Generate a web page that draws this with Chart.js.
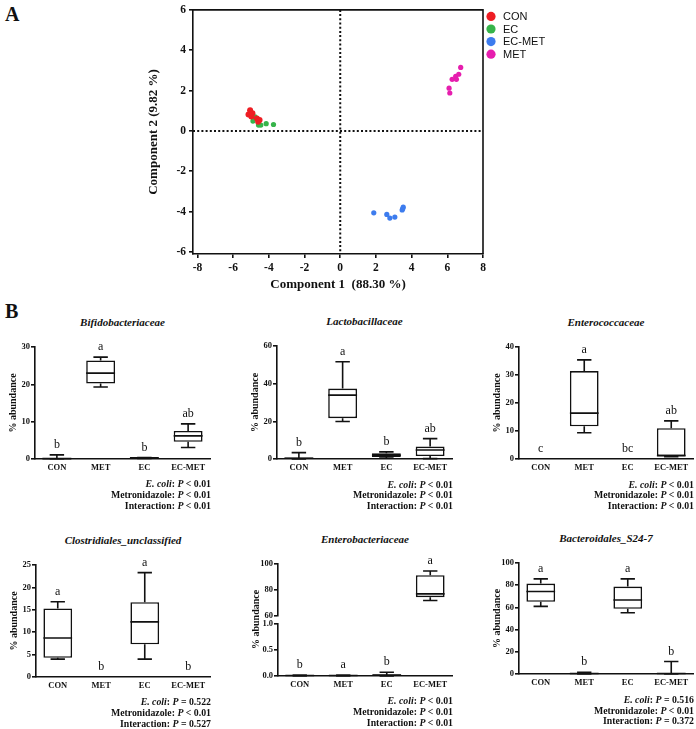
<!DOCTYPE html>
<html>
<head>
<meta charset="utf-8">
<script src="https://cdn.jsdelivr.net/npm/chart.js@4.4.0/dist/chart.umd.min.js"></script>
<style>
  body { margin: 0; background: #fff; }
  #page { position: relative; width: 696px; height: 729px; overflow: hidden; font-family: "Liberation Serif", serif; color: #111; }
  canvas { position: absolute; }
  .panel { position: absolute; font-weight: bold; font-size: 20px; line-height: 20px; }
  .title { position: absolute; font-style: italic; font-weight: bold; font-size: 11px; line-height: 13px; white-space: nowrap; transform: translateX(-50%); }
  .stats { position: absolute; font-weight: bold; font-size: 9.8px; line-height: 10.7px; text-align: right; white-space: nowrap; }
</style>
</head>
<body>
<div id="page">
  <div class="panel" style="left:5px; top:4px;">A</div>
  <div class="panel" style="left:5px; top:301px;">B</div>
  <canvas id="pca" width="420" height="300" style="left:140px; top:0px; width:420px; height:300px;"></canvas>
  <canvas id="bifido"></canvas>
  <canvas id="lacto"></canvas>
  <canvas id="enterococ"></canvas>
  <canvas id="clost"></canvas>
  <canvas id="enterobac"></canvas>
  <canvas id="bactero"></canvas>
</div>
<script>
// ---- data ----
const groups = ['CON', 'MET', 'EC', 'EC-MET'];
const factors = ['E. coli', 'Metronidazole', 'Interaction'];

// PCA scores [component 1, component 2]
const seriesNames = ['CON', 'EC', 'EC-MET', 'MET'];
const seriesColors = ['#ee1d23', '#36b44a', '#3d7cee', '#e61eae'];
const conScores = [[-5.14, 0.81], [-5.05, 1.03], [-4.98, 0.72], [-4.67, 0.62], [-4.52, 0.54], [-4.6, 0.45], [-4.92, 0.88]];
const ecScores = [[-4.86, 0.62], [-4.77, 0.70], [-4.89, 0.49], [-4.58, 0.29], [-4.45, 0.29], [-4.15, 0.36], [-3.74, 0.32]];
const ecMetScores = [[1.88, -4.06], [2.61, -4.14], [2.78, -4.32], [3.06, -4.27], [3.47, -3.92], [3.53, -3.78], [3.5, -3.86]];
const metScores = [[6.1, 2.12], [6.14, 1.88], [6.27, 2.56], [6.51, 2.56], [6.47, 2.71], [6.64, 2.81], [6.75, 3.15]];
const pcaXTicks = [-8, -6, -4, -2, 0, 2, 4, 6, 8];
const pcaYTicks = [-6, -4, -2, 0, 2, 4, 6];

// box plots: [min, q1, median, q3, max] per group, null = no box
const bifidoBox = [[0, 0.05, 0.1, 0.3, 1.1], [19.3, 20.2, 23.0, 26.4, 27.3], [0.15, 0.2, 0.3, 0.35, 0.4], [3.1, 4.6, 6.2, 7.5, 9.4]];
const bifidoLetters = ['b', 'a', 'b', 'ab'];
const bifidoP = ['< 0.01', '< 0.01', '< 0.01'];

const lactoBox = [[0, 0.2, 0.4, 0.8, 3.4], [19.9, 21.7, 33.9, 37.4, 51.6], [0.5, 1.0, 2.0, 3.0, 3.8], [0.2, 1.6, 4.8, 6.6, 10.8]];
const lactoLetters = ['b', 'a', 'b', 'ab'];
const lactoP = ['< 0.01', '< 0.01', '< 0.01'];

const enterococBox = [null, [9.4, 11.7, 16.4, 31.4, 35.4], null, [0.8, 1.0, 1.2, 11.0, 13.6]];
const enterococLetters = ['c', 'a', 'bc', 'ab'];
const enterococP = ['< 0.01', '< 0.01', '< 0.01'];

const clostBox = [[4.0, 4.3, 8.7, 15.3, 16.8], null, [4.0, 7.3, 12.3, 16.7, 23.3], null];
const clostLetters = ['a', 'b', 'a', 'b'];
const clostP = ['= 0.522', '< 0.01', '= 0.527'];

const enterobacBox = [[0, 0.005, 0.01, 0.015, 0.02], [0, 0.005, 0.01, 0.015, 0.02], [0, 0.01, 0.02, 0.03, 0.07], [71.6, 74.2, 76.8, 91.3, 94.5]];
const enterobacLetters = ['b', 'a', 'b', 'a'];
const enterobacP = ['< 0.01', '< 0.01', '< 0.01'];

const bacteroBox = [[60.9, 65.1, 74.3, 81.5, 85.7], [0, 0.2, 0.4, 0.6, 1.5], [55.2, 58.8, 66.6, 78.8, 85.7], [0, 0.2, 0.4, 0.8, 11.3]];
const bacteroLetters = ['a', 'b', 'a', 'b'];
const bacteroP = ['= 0.516', '< 0.01', '= 0.372'];

// ---- styling ----
Chart.defaults.font.family = '"Liberation Serif", serif';
Chart.defaults.color = '#111';
const INK = '#111';
const page = document.getElementById('page');

// ---- panel A: PCA scatter ----
const pcaDecor = {
    id: 'pcaDecor',
    beforeDatasetsDraw(chart) {
        const { ctx, chartArea: a, scales: { x, y } } = chart;
        ctx.save();
        ctx.strokeStyle = INK;
        ctx.lineWidth = 2;
        ctx.setLineDash([2, 2.2]);
        ctx.beginPath();
        ctx.moveTo(x.getPixelForValue(0), a.top);
        ctx.lineTo(x.getPixelForValue(0), a.bottom);
        ctx.moveTo(a.left, y.getPixelForValue(0));
        ctx.lineTo(a.right, y.getPixelForValue(0));
        ctx.stroke();
        ctx.restore();
    },
    afterDraw(chart) {
        const { ctx, chartArea: a } = chart;
        ctx.save();
        // frame on top and right
        ctx.strokeStyle = INK;
        ctx.lineWidth = 1.6;
        ctx.beginPath();
        ctx.moveTo(a.left, a.top);
        ctx.lineTo(a.right, a.top);
        ctx.lineTo(a.right, a.bottom);
        ctx.stroke();
        // legend
        ctx.font = '11px "Liberation Sans", Arial, sans-serif';
        ctx.textBaseline = 'middle';
        chart.data.datasets.forEach((ds, i) => {
            const cy = a.top + 6.5 + i * 12.6;
            ctx.fillStyle = ds.backgroundColor;
            ctx.beginPath();
            ctx.arc(a.right + 8, cy, 4.6, 0, Math.PI * 2);
            ctx.fill();
            ctx.fillStyle = INK;
            ctx.fillText(ds.label, a.right + 20, cy + 0.5);
        });
        ctx.restore();
    }
};

new Chart(document.getElementById('pca'), {
    type: 'scatter',
    data: {
        datasets: [conScores, ecScores, ecMetScores, metScores].map((pts, i) => ({
            label: seriesNames[i],
            data: pts.map(p => ({ x: p[0], y: p[1] })),
            backgroundColor: seriesColors[i],
            borderWidth: 0,
            pointRadius: i === 0 ? 3 : 2.6
        }))
    },
    options: {
        responsive: false,
        animation: false,
        devicePixelRatio: 1,
        layout: { padding: { top: 7, right: 77, left: 0, bottom: 0 } },
        plugins: { legend: { display: false }, tooltip: { enabled: false } },
        scales: {
            x: {
                min: -8.25, max: 8,
                afterBuildTicks: s => { s.ticks = pcaXTicks.map(v => ({ value: v })); },
                ticks: { font: { size: 11.5, weight: 'bold' }, color: INK, padding: 3 },
                grid: { drawOnChartArea: false, tickLength: 4, color: INK, lineWidth: 1.6 },
                border: { color: INK, width: 1.6 },
                title: { display: true, text: 'Component 1  (88.30 %)', font: { size: 13, weight: 'bold' }, color: INK, padding: { top: 0, bottom: 8 } },
                afterFit: s => { s.height = 46; }
            },
            y: {
                min: -6.1, max: 6,
                afterBuildTicks: s => { s.ticks = pcaYTicks.map(v => ({ value: v })); },
                ticks: { font: { size: 11.5, weight: 'bold' }, color: INK, padding: 3 },
                grid: { drawOnChartArea: false, tickLength: 4, color: INK, lineWidth: 1.6 },
                border: { color: INK, width: 1.6 },
                title: { display: true, text: 'Component 2 (9.82 %)', font: { size: 13, weight: 'bold' }, color: INK, padding: { top: 5.5, bottom: 0 } },
                afterFit: s => { s.width = 53; }
            }
        }
    },
    plugins: [pcaDecor]
});

// ---- panel B: box plots ----
const tickStyle = { font: { size: 8.5, weight: 'bold' }, color: INK, padding: 1 };
const tickGrid = { drawOnChartArea: false, tickLength: 4, color: INK, lineWidth: 1.6 };
const axisBorder = { color: INK, width: 1.6 };
const yTitle = { display: true, text: '% abundance', font: { size: 10, weight: 'bold' }, color: INK, padding: { top: 12, bottom: 0 } };

function yAxis(min, max, step, extra) {
    return Object.assign({
        position: 'left',
        min: min, max: max,
        ticks: Object.assign({ stepSize: step }, tickStyle),
        grid: tickGrid,
        border: axisBorder,
        title: yTitle,
        afterFit: s => { s.width = 40; }
    }, extra || {});
}

function boxPlugin(summary, letters, axisOf) {
    return {
        id: 'boxWhiskers',
        afterDatasetsDraw(chart) {
            const ctx = chart.ctx;
            const x = chart.scales.x;
            const half = x.width / groups.length * 0.33;
            ctx.save();
            ctx.strokeStyle = INK;
            ctx.fillStyle = INK;
            ctx.lineWidth = 1.6;
            summary.forEach((s, i) => {
                const y = chart.scales[axisOf(i)];
                const cx = x.getPixelForValue(i);
                if (s) {
                    const [lo, q1, med, q3, hi] = s.map(v => y.getPixelForValue(v));
                    ctx.beginPath();
                    ctx.moveTo(cx - half, med); ctx.lineTo(cx + half, med);
                    ctx.moveTo(cx, q3); ctx.lineTo(cx, hi);
                    ctx.moveTo(cx - half / 2, hi); ctx.lineTo(cx + half / 2, hi);
                    ctx.moveTo(cx, q1); ctx.lineTo(cx, lo);
                    ctx.moveTo(cx - half / 2, lo); ctx.lineTo(cx + half / 2, lo);
                    ctx.stroke();
                }
                const top = y.getPixelForValue(s ? s[4] : y.min);
                ctx.font = '12px "Liberation Serif", serif';
                ctx.textAlign = 'center';
                ctx.textBaseline = 'middle';
                ctx.fillText(letters[i], cx, top - 10);
            });
            ctx.restore();
        }
    };
}

function boxBars(summary, pick, axisId) {
    return {
        data: summary.map((s, i) => (s && pick(i)) ? [s[1], s[3]] : null),
        yAxisID: axisId,
        backgroundColor: '#fff',
        borderColor: INK,
        borderWidth: 1.6,
        borderSkipped: false,
        barPercentage: 0.66,
        categoryPercentage: 1,
        grouped: false
    };
}

function addText(name, stats, geo) {
    const t = document.createElement('div');
    t.className = 'title';
    t.textContent = name;
    t.style.left = ((geo.L + geo.R) / 2) + 'px';
    t.style.top = (geo.T - 31) + 'px';
    page.appendChild(t);

    const s = document.createElement('div');
    s.className = 'stats';
    s.innerHTML = factors.map((f, k) => {
        const label = k === 0 ? '<i>' + f + '</i>' : f;
        return label + ': <i>P</i> ' + stats[k].replace('<', '&lt;');
    }).join('<br>');
    s.style.right = (696 - geo.R - 1) + 'px';
    s.style.top = (geo.B + 20.5) + 'px';
    page.appendChild(s);
}

function boxChart(id, name, geo, summary, letters, stats, yScales, datasets, axisOf) {
    const cv = document.getElementById(id);
    const left = Math.round(geo.L - 40), top = Math.round(geo.T - 14);
    const w = Math.round(geo.R + 3) - left, h = Math.round(geo.B + 20) - top;
    cv.width = w; cv.height = h;
    cv.style.left = left + 'px'; cv.style.top = top + 'px';
    cv.style.width = w + 'px'; cv.style.height = h + 'px';
    addText(name, stats, geo);

    new Chart(cv, {
        type: 'bar',
        data: { labels: groups, datasets: datasets },
        options: {
            responsive: false,
            animation: false,
            devicePixelRatio: 1,
            layout: { padding: { top: 14, right: 3, left: 0, bottom: 0 } },
            plugins: { legend: { display: false }, tooltip: { enabled: false } },
            scales: Object.assign({
                x: {
                    grid: { display: false, drawTicks: false },
                    border: axisBorder,
                    ticks: { font: { size: 8.5, weight: 'bold' }, color: INK, padding: 4, maxRotation: 0, autoSkip: false },
                    afterFit: s => { s.height = 20; }
                }
            }, yScales)
        },
        plugins: [boxPlugin(summary, letters, axisOf)]
    });
}

const all = () => true;
const onY = () => 'y';

boxChart('bifido', 'Bifidobacteriaceae', { L: 35, R: 210, T: 346.7, B: 458.7 },
    bifidoBox, bifidoLetters, bifidoP, { y: yAxis(0, 30, 10) }, [boxBars(bifidoBox, all, 'y')], onY);

boxChart('lacto', 'Lactobacillaceae', { L: 277, R: 452, T: 346, B: 459 },
    lactoBox, lactoLetters, lactoP, { y: yAxis(0, 60, 20) }, [boxBars(lactoBox, all, 'y')], onY);

boxChart('enterococ', 'Enterococcaceae', { L: 519, R: 693, T: 347.3, B: 459 },
    enterococBox, enterococLetters, enterococP, { y: yAxis(0, 40, 10) }, [boxBars(enterococBox, all, 'y')], onY);

boxChart('clost', 'Clostridiales_unclassified', { L: 36, R: 210, T: 565, B: 676.7 },
    clostBox, clostLetters, clostP, { y: yAxis(0, 25, 5) }, [boxBars(clostBox, all, 'y')], onY);

// broken axis: lower 0-1.0, gap, upper 60-100
const enterobacAxis = i => (i === 3 ? 'yTop' : 'y');
boxChart('enterobac', 'Enterobacteriaceae', { L: 278, R: 452, T: 564, B: 675.7 },
    enterobacBox, enterobacLetters, enterobacP,
    {
        y: yAxis(0, 1, 0.5, {
            stack: 'ent', stackWeight: 52.4,
            ticks: Object.assign({ stepSize: 0.5, callback: v => v.toFixed(1) }, tickStyle),
            title: { display: false }
        }),
        yGap: yAxis(0, 1, 1, {
            stack: 'ent', stackWeight: 8,
            ticks: { display: false },
            grid: { display: false },
            border: { display: false }
        }),
        yTop: yAxis(60, 100, 20, {
            stack: 'ent', stackWeight: 51.3,
            title: { display: false }
        })
    },
    [boxBars(enterobacBox, i => i !== 3, 'y'), boxBars(enterobacBox, i => i === 3, 'yTop')],
    enterobacAxis);

boxChart('bactero', 'Bacteroidales_S24-7', { L: 519, R: 693, T: 562.7, B: 674.3 },
    bacteroBox, bacteroLetters, bacteroP, { y: yAxis(0, 100, 20) }, [boxBars(bacteroBox, all, 'y')], onY);
</script>
</body>
</html>
